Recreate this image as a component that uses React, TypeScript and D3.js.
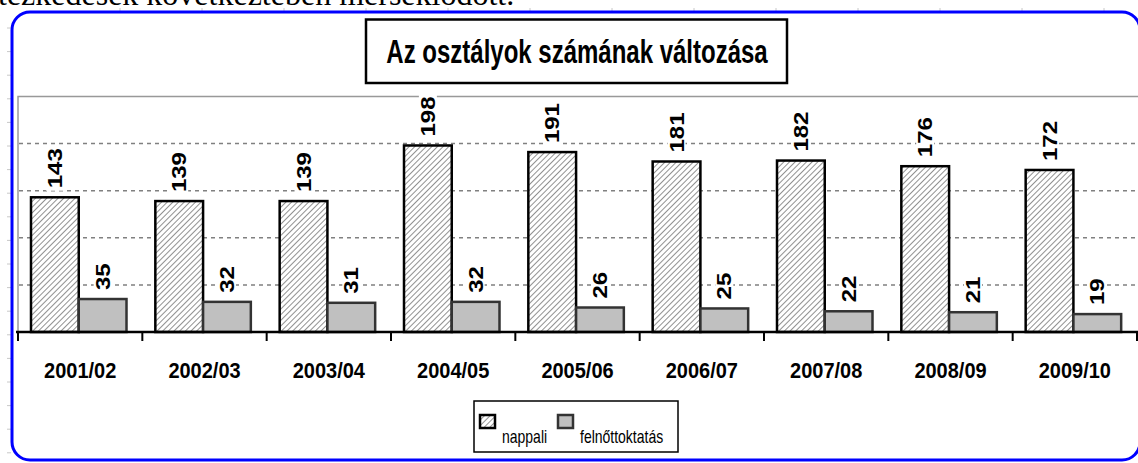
import { useRef, useEffect } from 'react';
import * as d3 from 'd3';

const years = ['2001/02', '2002/03', '2003/04', '2004/05', '2005/06', '2006/07', '2007/08', '2008/09', '2009/10'];
const nappali = [143, 139, 139, 198, 191, 181, 182, 176, 172];
const felnott = [35, 32, 31, 32, 26, 25, 22, 21, 19];
const seriesNames = ['nappali', 'felnőttoktatás'];
const gridValues = [50, 100, 150, 200];

export default function App() {
  const svgRef = useRef<SVGSVGElement>(null);

  useEffect(() => {
    const width = 1138;
    const height = 463;
    const svg = d3.select(svgRef.current).attr('width', width).attr('height', height);
    svg.selectAll('*').remove();

    const font = 'Arial, "Liberation Sans", sans-serif';

    // hatch pattern for the nappali bars
    const defs = svg.append('defs');
    const hatch = defs
      .append('pattern')
      .attr('id', 'hatch')
      .attr('patternUnits', 'userSpaceOnUse')
      .attr('width', 4)
      .attr('height', 4)
      .attr('patternTransform', 'rotate(45)');
    hatch.append('rect').attr('width', 4).attr('height', 4).attr('fill', '#fff');
    hatch.append('line').attr('x1', 0).attr('y1', 0).attr('x2', 0).attr('y2', 4).attr('stroke', '#555').attr('stroke-width', 1.3);

    // text line of the surrounding document, cut at the top
    svg
      .append('text')
      .attr('x', -2)
      .attr('y', 5)
      .attr('font-family', '"Liberation Serif", "Times New Roman", serif')
      .attr('font-size', 32)
      .text('tézkedések következtében mérséklődött.');

    // faint ruler marks of the text frame
    const ruler = svg.append('g').attr('stroke', '#c8c8c8').attr('stroke-width', 1);
    ruler
      .selectAll('line.v')
      .data(d3.range(28, 463, 23.6))
      .join('line')
      .attr('x1', 7)
      .attr('x2', 11)
      .attr('y1', (d) => d)
      .attr('y2', (d) => d);
    ruler
      .selectAll('line.h')
      .data(d3.range(120, 1138, 82))
      .join('line')
      .attr('x1', (d) => d)
      .attr('x2', (d) => d)
      .attr('y1', 8)
      .attr('y2', 11);

    // blue rounded frame
    svg
      .append('rect')
      .attr('x', 12)
      .attr('y', 12)
      .attr('width', 1128)
      .attr('height', 448)
      .attr('rx', 18)
      .attr('fill', 'none')
      .attr('stroke', '#0000ff')
      .attr('stroke-width', 3);

    const x0 = d3.scaleBand().domain(years).range([18, 1137]);
    const x1 = d3.scaleBand().domain(seriesNames).range([13, 108.5]);
    const y = d3.scaleLinear().domain([0, 250]).range([332, 96.5]);

    // plot area border
    svg
      .append('path')
      .attr('d', `M${x0.range()[1] + 2},${y(250)}H18V${y(0)}`)
      .attr('fill', 'none')
      .attr('stroke', '#999')
      .attr('stroke-width', 1.5);

    // dashed gridlines
    svg
      .append('g')
      .selectAll('line')
      .data(gridValues)
      .join('line')
      .attr('x1', 19)
      .attr('x2', 1138)
      .attr('y1', (d) => y(d))
      .attr('y2', (d) => y(d))
      .attr('stroke', '#808080')
      .attr('stroke-width', 1.5)
      .attr('stroke-dasharray', '4,4');

    const groups = svg
      .append('g')
      .selectAll('g')
      .data(years)
      .join('g')
      .attr('transform', (d) => `translate(${x0(d)},0)`);

    const rows = (i: number) => [
      { key: 'nappali', value: nappali[i] },
      { key: 'felnőttoktatás', value: felnott[i] },
    ];

    groups
      .selectAll('rect')
      .data((_, i) => rows(i))
      .join('rect')
      .attr('x', (d) => x1(d.key)!)
      .attr('y', (d) => y(d.value))
      .attr('width', x1.bandwidth())
      .attr('height', (d) => y(0) - y(d.value))
      .attr('fill', (d) => (d.key === 'nappali' ? 'url(#hatch)' : '#c0c0c0'))
      .attr('stroke', (d) => (d.key === 'nappali' ? '#000' : '#333'))
      .attr('stroke-width', 2.5);

    // rotated value labels with white backing
    const labels = groups
      .selectAll('g.lbl')
      .data((_, i) => rows(i))
      .join('g')
      .attr('class', 'lbl')
      .attr(
        'transform',
        (d) => `translate(${x1(d.key)! + x1.bandwidth() / 2},${y(d.value) - 9}) rotate(-90) scale(1.2,1)`
      );
    labels
      .append('rect')
      .attr('x', -2)
      .attr('y', -9)
      .attr('width', (d) => String(d.value).length * 11.1 + 4)
      .attr('height', 18)
      .attr('fill', '#fff');
    labels
      .append('text')
      .attr('x', 0)
      .attr('y', 0)
      .attr('dy', '0.36em')
      .attr('font-family', font)
      .attr('font-weight', 'bold')
      .attr('font-size', 20)
      .text((d) => d.value);

    // baseline axis
    svg
      .append('line')
      .attr('x1', 16)
      .attr('x2', 1138)
      .attr('y1', y(0))
      .attr('y2', y(0))
      .attr('stroke', '#000')
      .attr('stroke-width', 2.5);
    svg
      .append('g')
      .selectAll('line')
      .data(d3.range(years.length + 1))
      .join('line')
      .attr('x1', (i) => x0.range()[0] + i * x0.step())
      .attr('x2', (i) => x0.range()[0] + i * x0.step())
      .attr('y1', y(0))
      .attr('y2', y(0) + 9)
      .attr('stroke', '#000')
      .attr('stroke-width', 2);

    svg
      .append('g')
      .selectAll('text')
      .data(years)
      .join('text')
      .attr('transform', (d) => `translate(${x0(d)! + x0.bandwidth() / 2},378) scale(1,1.12)`)
      .attr('text-anchor', 'middle')
      .attr('font-family', font)
      .attr('font-weight', 'bold')
      .attr('font-size', 20)
      .text((d) => d);

    // title box
    svg
      .append('rect')
      .attr('x', 366)
      .attr('y', 19.5)
      .attr('width', 421)
      .attr('height', 63.5)
      .attr('fill', '#fff')
      .attr('stroke', '#000')
      .attr('stroke-width', 2.5);
    svg
      .append('text')
      .attr('transform', 'translate(577,63) scale(1,1.35)')
      .attr('text-anchor', 'middle')
      .attr('font-family', font)
      .attr('font-weight', 'bold')
      .attr('font-size', 24)
      .text('Az osztályok számának változása');

    // legend
    const legend = svg.append('g');
    legend
      .append('rect')
      .attr('x', 474)
      .attr('y', 401)
      .attr('width', 204)
      .attr('height', 51)
      .attr('fill', '#fff')
      .attr('stroke', '#000')
      .attr('stroke-width', 1.5);
    const items = [
      { key: seriesNames[0], sx: 480, tx: 502, fill: 'url(#hatch)', stroke: '#000' },
      { key: seriesNames[1], sx: 558, tx: 580, fill: '#c0c0c0', stroke: '#333' },
    ];
    legend
      .selectAll('rect.sw')
      .data(items)
      .join('rect')
      .attr('class', 'sw')
      .attr('x', (d) => d.sx)
      .attr('y', 415)
      .attr('width', 15)
      .attr('height', 13)
      .attr('fill', (d) => d.fill)
      .attr('stroke', (d) => d.stroke)
      .attr('stroke-width', 2.5);
    legend
      .selectAll('text')
      .data(items)
      .join('text')
      .attr('transform', (d) => `translate(${d.tx},443) scale(1,1.25)`)
      .attr('font-family', font)
      .attr('font-size', 14)
      .text((d) => d.key);
  }, []);

  return (
    <div style={{ position: 'absolute', left: 0, top: 0 }}>
      <svg ref={svgRef} style={{ display: 'block' }} />
    </div>
  );
}
